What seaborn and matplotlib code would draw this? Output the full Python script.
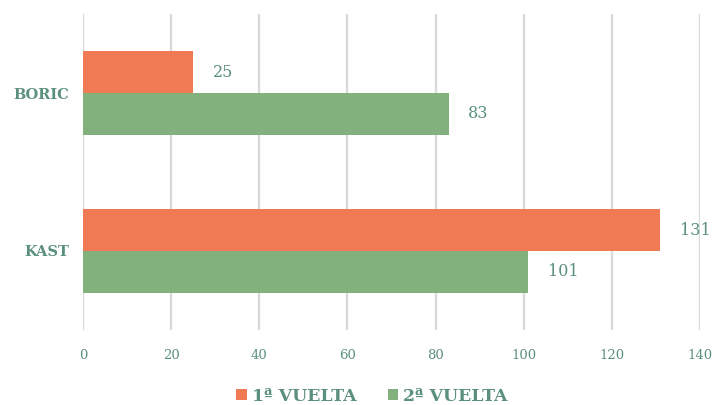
import matplotlib
matplotlib.use("Agg")
import matplotlib.pyplot as plt
import seaborn as sns
import pandas as pd

candidates = ["BORIC", "KAST"]
series = ["1ª VUELTA", "2ª VUELTA"]
vuelta1 = [25, 131]
vuelta2 = [83, 101]
xticks = [0, 20, 40, 60, 80, 100, 120, 140]

df = pd.DataFrame({
    "candidato": candidates * 2,
    "vuelta": [series[0]] * len(candidates) + [series[1]] * len(candidates),
    "votos": vuelta1 + vuelta2,
})

sns.set_theme(style="white")
plt.rcParams["font.family"] = ["DejaVu Serif"]

text_color = "#5B917C"
colors = ["#F07A53", "#82B17E"]

fig = plt.figure(figsize=(7.14, 4.05), dpi=100)
ax = fig.add_axes([0.1162, 0.1852, 0.8642, 0.7802])

sns.barplot(data=df, y="candidato", x="votos", hue="vuelta", order=candidates,
            hue_order=series, palette=colors, width=0.53, orient="h",
            saturation=1, linewidth=0, ax=ax, legend=True)

for c in ax.containers:
    ax.bar_label(c, padding=14, color=text_color, fontsize=11.5)

ax.set_xlim(0, 140)
ax.set_ylim(1.5, -0.5)
ax.set_xticks(xticks)
ax.set_xticklabels([str(t) for t in xticks], color=text_color, fontsize=9.5)
ax.tick_params(axis="x", length=0, pad=14)
ax.tick_params(axis="y", length=0, pad=10)
for lab in ax.get_yticklabels():
    lab.set_color(text_color)
    lab.set_fontweight("bold")
    lab.set_fontsize(10.5)
ax.set_xlabel("")
ax.set_ylabel("")
ax.grid(axis="x", color="#D9D9D9", linewidth=1.6)
ax.set_axisbelow(True)
for s in ax.spines.values():
    s.set_visible(False)

handles, labels = ax.get_legend_handles_labels()
ax.legend_.remove()
leg = fig.legend(handles, labels, loc="center", bbox_to_anchor=(0.521, 0.022),
                 ncol=2, frameon=False, handlelength=0.6, handleheight=0.6,
                 handletextpad=0.3, columnspacing=1.8,
                 prop={"weight": "bold", "size": 12.5})
for t in leg.get_texts():
    t.set_color(text_color)

fig.savefig("out.png", dpi=100)
